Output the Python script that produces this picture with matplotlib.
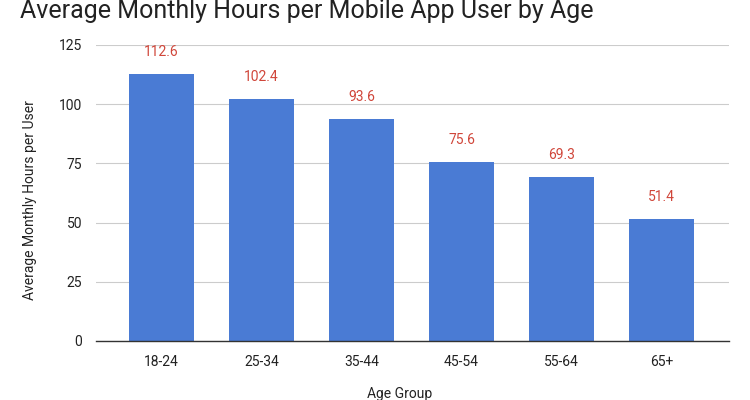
import matplotlib
matplotlib.use("Agg")
import matplotlib.pyplot as plt

# data
age_groups = ["18-24", "25-34", "35-44", "45-54", "55-64", "65+"]
avg_hours = [112.6, 102.4, 93.6, 75.6, 69.3, 51.4]
y_ticks = [0, 25, 50, 75, 100, 125]

plt.rcParams['font.family'] = ['Roboto', 'DejaVu Sans']

fig = plt.figure(figsize=(7.5, 4), dpi=100)
ax = fig.add_axes([0.128, 0.1475, 0.844, 0.74])

x = range(len(age_groups))
bars = ax.bar(x, avg_hours, width=0.65, color='#4a7bd4', zorder=3)

for rect, v in zip(bars, avg_hours):
    ax.annotate(f"{v}", (rect.get_x() + rect.get_width() / 2, v),
                xytext=(0, 15), textcoords='offset pixels',
                ha='center', va='bottom', fontsize=10, color='#d0463a')

ax.set_xlim(-0.655, 5.675)
ax.set_ylim(0, 125)
ax.set_yticks(y_ticks)
ax.set_xticks(list(x))
ax.set_xticklabels(age_groups)
ax.tick_params(axis='both', length=0, labelsize=10, labelcolor='#222222')
ax.tick_params(axis='y', pad=10)
ax.tick_params(axis='x', pad=10)
ax.grid(axis='y', color='#cccccc', linewidth=0.8, zorder=0)
for s in ['top', 'right', 'left']:
    ax.spines[s].set_visible(False)
ax.spines['bottom'].set_color('#333333')
ax.spines['bottom'].set_linewidth(1)
ax.spines['bottom'].set_zorder(4)

fig.text(0.04, 0.5, "Average Monthly Hours per User", rotation=90,
         ha='center', va='center', fontsize=10, color='#222222')
fig.text(0.533, 0.006, "Age Group", ha='center', va='baseline',
         fontsize=10, color='#222222')
fig.text(0.027, 0.955, "Average Monthly Hours per Mobile App User by Age",
         ha='left', va='baseline', fontsize=18, color='#222222')

fig.savefig("out.png", dpi=100)
